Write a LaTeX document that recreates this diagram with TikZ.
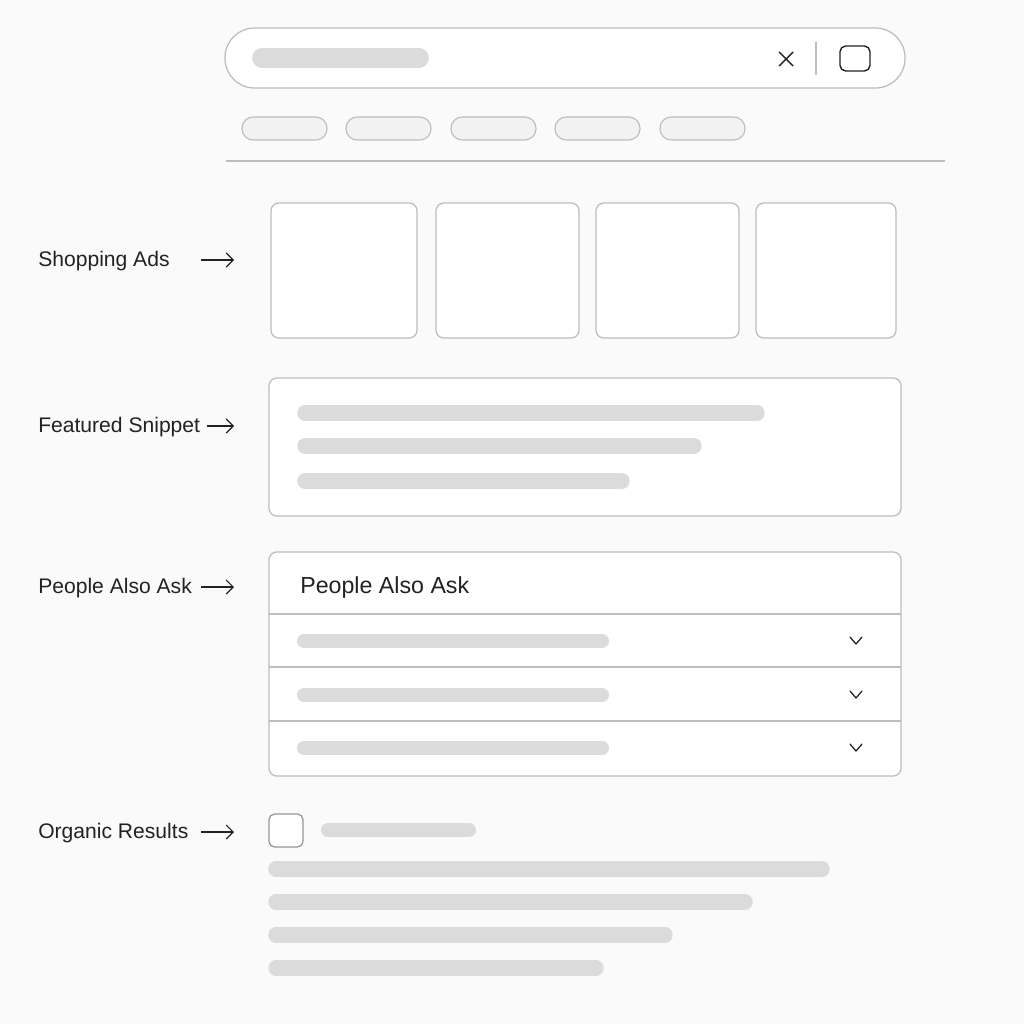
\documentclass[tikz,border=0pt]{standalone}
\usepackage{fontspec}
\setmainfont{Liberation Sans}
\usetikzlibrary{arrows.meta,positioning}

\definecolor{page}{HTML}{FAFAFA}
\definecolor{edge}{HTML}{BDBDBD}
\definecolor{skel}{HTML}{DBDBDB}
\definecolor{chipfill}{HTML}{F2F2F2}
\definecolor{ink}{HTML}{222222}

\tikzset{
  panel/.style={draw=edge, line width=0.9pt, rounded corners=5.5pt, fill=white},
  bar/.style={draw=skel, line width=#1, line cap=round},
  bar/.default=11pt,
  chip/.style={draw=edge, line width=0.8pt, fill=chipfill, rounded corners=8pt},
  tag/.style={anchor=base west, text=ink, inner sep=0pt, font=\fontsize{15}{18}\selectfont},
  pointer/.style={draw=ink, line width=0.8pt, -{Straight Barb[length=5pt,width=10pt]}},
  chevron/.style={draw=ink, line width=0.9pt, line cap=round, line join=round},
}

\begin{document}
\begin{tikzpicture}[x=0.025cm, y=-0.025cm]
\fill[page] (0,0) rectangle (1024,1024);
\useasboundingbox (0,0) rectangle (1024,1024);

% search bar
\draw[panel, rounded corners=21pt] (225,28) rectangle (905,88);
\draw[bar=14pt] (262,58) -- (419,58);
\draw[ink, line width=1pt] (779,52) -- (793,66) (779,66) -- (793,52);
\draw[edge, line width=0.8pt] (816,42) -- (816,75);
\draw[ink, line width=1pt, rounded corners=4pt] (840,46) rectangle (870,71);

% filter chips
\foreach \x in {242,346,451,555,660}
  \draw[chip] (\x,117) rectangle (\x+85,140);
\draw[edge, line width=0.8pt] (226,161) -- (945,161);

% shopping ads
\foreach \a/\b in {271/417,436/579,596/739,756/896}
  \draw[panel] (\a,203) rectangle (\b,338);
\node[tag] (shop) at (38,266) {Shopping Ads};
\coordinate (shop-out) at (201,260);
\coordinate (shop-in) at (234,260);
\draw[pointer] (shop-out) -- (shop-in);

% featured snippet
\draw[panel] (269,378) rectangle (901,516);
\draw[bar] (305,413) -- (757,413);
\draw[bar] (305,446) -- (694,446);
\draw[bar] (305,481) -- (622,481);
\node[tag] (snip) at (38,432) {Featured Snippet};
\coordinate (snip-out) at (207,426);
\coordinate (snip-in) at (234,426);
\draw[pointer] (snip-out) -- (snip-in);

% people also ask
\draw[panel] (269,552) rectangle (901,776);
\node[tag, font=\fontsize{16.5}{20}\selectfont] (paa-title) at (300,593) {People Also Ask};
\foreach \y in {614,667,721}
  \draw[edge, line width=0.9pt] (269,\y) -- (901,\y);
\foreach \y in {641,695,748} {
  \draw[bar=10pt] (304,\y) -- (602,\y);
  \draw[chevron] (850,\y-4) -- (856,\y+3) -- (862,\y-4);
}
\node[tag] (paa) at (38,593) {People Also Ask};
\coordinate (paa-out) at (201,587);
\coordinate (paa-in) at (234,587);
\draw[pointer] (paa-out) -- (paa-in);

% organic results
\draw[draw=edge!80!black, line width=0.9pt, rounded corners=4pt, fill=white] (269,814) rectangle (303,847);
\draw[bar=10pt] (328,830) -- (469,830);
\draw[bar] (276,869) -- (822,869);
\draw[bar] (276,902) -- (745,902);
\draw[bar] (276,935) -- (665,935);
\draw[bar] (276,968) -- (596,968);
\node[tag] (org) at (38,838) {Organic Results};
\coordinate (org-out) at (201,832);
\coordinate (org-in) at (234,832);
\draw[pointer] (org-out) -- (org-in);
\end{tikzpicture}
\end{document}
